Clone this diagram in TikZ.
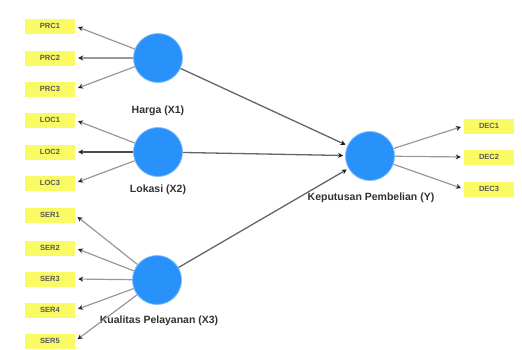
\documentclass[tikz,border=0pt]{standalone}
\usepackage{fontspec}
\setmainfont{Liberation Sans}
\usetikzlibrary{arrows.meta}
\definecolor{lvblue}{RGB}{40,145,250}
\definecolor{indyel}{RGB}{250,250,100}
\definecolor{txtgray}{RGB}{50,50,50}
\tikzset{
  latent/.style={circle,fill=lvblue,draw=lvblue!60!white,line width=0.8pt,minimum size=49pt,inner sep=0pt},
  indbox/.style={rectangle,fill=indyel,minimum width=50pt,minimum height=15pt,inner sep=0pt,font=\fontsize{7.5}{8}\selectfont\bfseries,text=black!65},
  lvlabel/.style={font=\fontsize{10.5}{12}\selectfont\bfseries,text=txtgray},
  loadarrow/.style={draw=black!40,line width=1.2pt,-{Stealth[length=5pt,width=5pt,color=black!85]},shorten >=3pt},
  thickload/.style={draw=black!70,line width=2.4pt,-{Stealth[length=5pt,width=5pt,color=black!85]},shorten >=3pt},
  patharrow/.style={draw=black!60,line width=1.3pt,-{Stealth[length=5pt,width=5pt,color=black!90]},shorten >=2pt}
}
\begin{document}
\begin{tikzpicture}[x=1pt,y=-1pt]
\useasboundingbox[fill=white] (0,0) rectangle (522,349);
% latent variables
\node[latent] (X1) at (158,58) {};
\node[latent] (X2) at (158,152) {};
\node[latent] (X3) at (157,280) {};
\node[latent] (Y) at (370,156) {};
% labels
\node[lvlabel] (LX1) at (158,111) {Harga (X1)};
\node[lvlabel] (LX2) at (158,190) {Lokasi (X2)};
\node[lvlabel] (LX3) at (159,321) {Kualitas Pelayanan (X3)};
\node[lvlabel] (LY) at (371,198) {Keputusan Pembelian (Y)};
% indicators
\node[indbox] (P1) at (50,26) {PRC1};
\node[indbox] (P2) at (50,58) {PRC2};
\node[indbox] (P3) at (50,89) {PRC3};
\node[indbox] (L1) at (50,120) {LOC1};
\node[indbox] (L2) at (50,152) {LOC2};
\node[indbox] (L3) at (50,183) {LOC3};
\node[indbox] (S1) at (50,215) {SER1};
\node[indbox] (S2) at (50,248) {SER2};
\node[indbox] (S3) at (50,279) {SER3};
\node[indbox] (S4) at (50,310) {SER4};
\node[indbox] (S5) at (50,341) {SER5};
\node[indbox] (D1) at (489,126) {DEC1};
\node[indbox] (D2) at (489,157) {DEC2};
\node[indbox] (D3) at (489,189) {DEC3};
% loadings
\foreach \i in {P1,P2,P3} \draw[loadarrow] (X1) -- (\i.east);
\foreach \i in {L1,L3} \draw[loadarrow] (X2) -- (\i.east);
\draw[thickload] (X2) -- (L2.east);
\foreach \i in {S1,S2,S3,S4,S5} \draw[loadarrow] (X3) -- (\i.east);
\foreach \i in {D1,D2,D3} \draw[loadarrow] (Y) -- (\i.west);
% structural paths
\draw[patharrow] (X1) -- (Y);
\draw[patharrow] (X2) -- (Y);
\draw[patharrow] (X3) -- (Y);
\end{tikzpicture}
\end{document}
